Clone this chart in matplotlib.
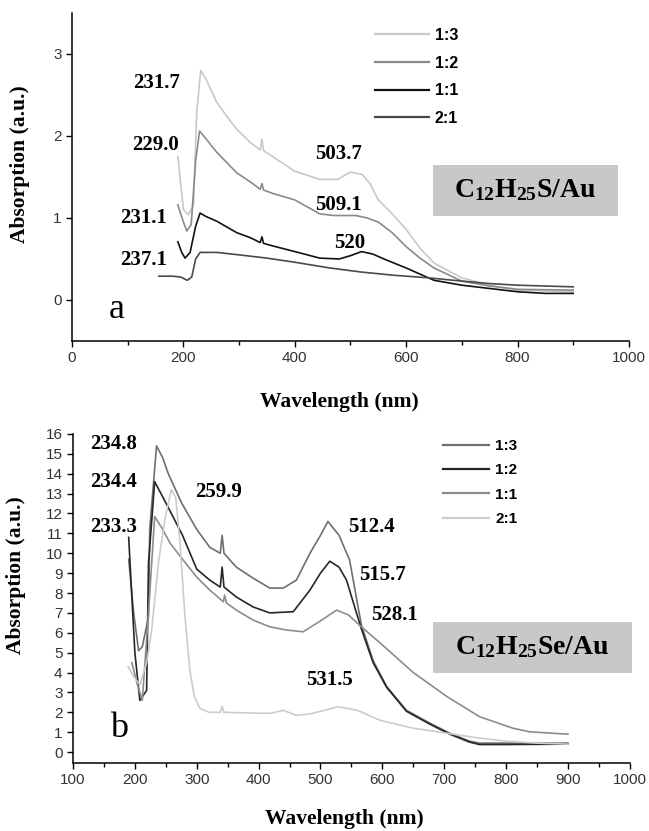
import matplotlib
matplotlib.use("Agg")
import matplotlib.pyplot as plt
from matplotlib.patches import Rectangle
from matplotlib.ticker import MultipleLocator

plt.rcParams['font.family'] = ['Liberation Sans', 'DejaVu Sans']
plt.rcParams['mathtext.fontset'] = 'custom'
plt.rcParams['mathtext.rm'] = 'Liberation Serif'
plt.rcParams['mathtext.bf'] = 'Liberation Serif:bold'

# ---- panel a : C12H25S/Au ----
labels = ['1:3', '1:2', '1:1', '2:1']

wl_a_13 = [190, 200, 209, 218, 224, 231, 240, 260, 280, 296, 320, 338, 341, 344, 360, 400, 445, 477, 500, 521, 535, 550, 575, 600, 625, 650, 700, 750, 800, 850, 900]
abs_a_13 = [1.75, 1.10, 1.04, 1.15, 2.30, 2.80, 2.70, 2.41, 2.22, 2.08, 1.92, 1.83, 1.96, 1.82, 1.75, 1.57, 1.47, 1.47, 1.56, 1.53, 1.42, 1.22, 1.05, 0.86, 0.63, 0.45, 0.27, 0.18, 0.12, 0.11, 0.10]

wl_a_12 = [190, 200, 206, 214, 222, 229, 240, 260, 296, 320, 338, 341, 344, 360, 400, 445, 470, 509, 530, 550, 575, 600, 625, 650, 700, 750, 800, 900]
abs_a_12 = [1.16, 0.95, 0.84, 0.92, 1.70, 2.06, 1.97, 1.80, 1.55, 1.44, 1.35, 1.42, 1.34, 1.30, 1.22, 1.05, 1.03, 1.03, 1.00, 0.95, 0.82, 0.65, 0.51, 0.39, 0.23, 0.17, 0.13, 0.12]

wl_a_11 = [190, 197, 203, 212, 222, 230, 240, 260, 296, 320, 338, 341, 344, 360, 400, 445, 480, 500, 520, 540, 560, 600, 650, 700, 750, 800, 850, 900]
abs_a_11 = [0.71, 0.58, 0.51, 0.58, 0.90, 1.06, 1.02, 0.96, 0.82, 0.76, 0.70, 0.77, 0.69, 0.66, 0.59, 0.51, 0.50, 0.54, 0.59, 0.56, 0.50, 0.39, 0.24, 0.18, 0.14, 0.10, 0.08, 0.08]

wl_a_21 = [156, 180, 195, 207, 215, 222, 230, 260, 300, 350, 400, 463, 520, 580, 640, 700, 750, 800, 900]
abs_a_21 = [0.29, 0.29, 0.28, 0.24, 0.28, 0.50, 0.58, 0.58, 0.55, 0.51, 0.46, 0.39, 0.34, 0.30, 0.27, 0.23, 0.20, 0.18, 0.16]

peaks_a = ['231.7', '229.0', '231.1', '237.1', '503.7', '509.1', '520']
peaks_a_x = [151, 150, 129, 129, 478, 478, 499]
peaks_a_y = [2.65, 1.89, 1.00, 0.49, 1.78, 1.16, 0.70]

# ---- panel b : C12H25Se/Au ----
wl_b_13 = [190, 198, 206, 212, 222, 224, 235, 245, 254, 276, 300, 321, 338, 341, 344, 364, 391, 418, 440, 461, 483, 500, 512, 530, 547, 566, 585, 607, 639, 677, 709, 741, 757, 800, 900]
abs_b_13 = [9.7, 7.0, 5.1, 5.3, 6.8, 11.2, 15.4, 14.8, 14.0, 12.5, 11.2, 10.3, 10.0, 10.9, 10.0, 9.3, 8.75, 8.25, 8.25, 8.65, 10.0, 10.9, 11.6, 10.9, 9.66, 6.4, 4.6, 3.3, 2.1, 1.45, 0.95, 0.55, 0.45, 0.45, 0.45]

wl_b_12 = [190, 192, 200, 208, 219, 222, 232, 254, 277, 300, 321, 338, 341, 344, 364, 391, 418, 456, 483, 500, 515, 530, 542, 566, 585, 607, 639, 677, 709, 741, 757, 800, 900]
abs_b_12 = [10.8, 9.6, 5.0, 2.6, 3.1, 9.5, 13.6, 12.3, 10.9, 9.2, 8.65, 8.3, 9.3, 8.3, 7.8, 7.3, 7.0, 7.06, 8.15, 9.0, 9.6, 9.3, 8.65, 6.2, 4.5, 3.25, 2.05, 1.4, 0.9, 0.5, 0.38, 0.38, 0.40]

wl_b_11 = [195, 204, 212, 222, 232, 245, 257, 278, 300, 321, 343, 345, 348, 364, 391, 418, 445, 472, 500, 526, 545, 566, 596, 650, 704, 757, 811, 838, 900]
abs_b_11 = [4.5, 3.4, 2.6, 7.0, 11.85, 11.2, 10.5, 9.66, 8.8, 8.15, 7.56, 7.9, 7.5, 7.14, 6.64, 6.3, 6.14, 6.05, 6.6, 7.14, 6.9, 6.3, 5.5, 4.0, 2.8, 1.78, 1.2, 1.02, 0.9]

wl_b_21 = [189, 198, 208, 219, 227, 238, 249, 259, 266, 273, 281, 289, 296, 305, 320, 338, 341, 344, 391, 420, 440, 461, 483, 500, 528, 560, 596, 650, 704, 757, 800, 850, 900]
abs_b_21 = [4.3, 3.8, 3.4, 4.5, 6.1, 9.5, 11.8, 13.2, 12.8, 10.5, 6.8, 4.1, 2.8, 2.2, 2.0, 2.0, 2.3, 2.0, 1.96, 1.95, 2.1, 1.85, 1.92, 2.05, 2.28, 2.1, 1.6, 1.2, 0.95, 0.7, 0.55, 0.45, 0.40]

peaks_b = ['234.8', '234.4', '233.3', '259.9', '512.4', '515.7', '528.1', '531.5']
peaks_b_x = [165, 165, 165, 336, 583, 601, 619, 515]
peaks_b_y = [15.5, 13.6, 11.3, 13.1, 11.3, 8.9, 6.9, 3.65]

colors_a = ['#c8c8c8', '#8a8a8a', '#111111', '#4a4a4a']
colors_b = ['#6e6e6e', '#262626', '#8c8c8c', '#cccccc']

serif = 'Liberation Serif'

fig = plt.figure(figsize=(6.49, 8.31), dpi=100)
ax1 = fig.add_axes([0.111, 0.5897, 0.858, 0.3947])
ax2 = fig.add_axes([0.1125, 0.0818, 0.858, 0.396])

series_a = [(wl_a_13, abs_a_13), (wl_a_12, abs_a_12), (wl_a_11, abs_a_11), (wl_a_21, abs_a_21)]
for (x, y), c, lab in zip(series_a, colors_a, labels):
    ax1.plot(x, y, color=c, lw=1.2, label=lab)

series_b = [(wl_b_13, abs_b_13), (wl_b_12, abs_b_12), (wl_b_11, abs_b_11), (wl_b_21, abs_b_21)]
for (x, y), c, lab in zip(series_b, colors_b, labels):
    ax2.plot(x, y, color=c, lw=1.2, label=lab)

for t, x, y in zip(peaks_a, peaks_a_x, peaks_a_y):
    ax1.text(x, y, t, ha='center', va='center', fontsize=15, fontweight='bold', family=serif)
for t, x, y in zip(peaks_b, peaks_b_x, peaks_b_y):
    ax2.text(x, y, t, ha='center', va='center', fontsize=15, fontweight='bold', family=serif)

ax1.set_xlim(0, 1000)
ax1.set_ylim(-0.5, 3.5)
ax1.xaxis.set_major_locator(MultipleLocator(200))
ax1.xaxis.set_minor_locator(MultipleLocator(100))
ax1.yaxis.set_major_locator(MultipleLocator(1))

ax2.set_xlim(100, 1000)
ax2.set_ylim(-0.55, 16)
ax2.xaxis.set_major_locator(MultipleLocator(100))
ax2.xaxis.set_minor_locator(MultipleLocator(50))
ax2.yaxis.set_major_locator(MultipleLocator(1))

for ax in (ax1, ax2):
    ax.spines['top'].set_visible(False)
    ax.spines['right'].set_visible(False)
    for s in ('left', 'bottom'):
        ax.spines[s].set_linewidth(1.1)
    ax.tick_params(which='major', direction='out', length=4, width=1.0, labelsize=11, labelcolor='#333333')
    ax.tick_params(which='minor', direction='out', length=3, width=1.0)
    ax.set_xlabel('Wavelength (nm)', fontsize=15.5, fontweight='bold', family=serif)
    ax.set_ylabel('Absorption (a.u.)', fontsize=15.5, fontweight='bold', family=serif)

ax1.xaxis.set_label_coords(0.48, -0.155)
ax1.yaxis.set_label_coords(-0.075, 0.54)
ax2.xaxis.set_label_coords(0.488, -0.14)
ax2.yaxis.set_label_coords(-0.084, 0.571)

leg1 = ax1.legend(loc='upper left', bbox_to_anchor=(0.544, 0.955), frameon=False, borderpad=0,
                  borderaxespad=0, handlelength=3.4, handletextpad=0.35, labelspacing=0.8,
                  prop={'weight': 'bold', 'size': 11.5})
leg2 = ax2.legend(loc='upper left', bbox_to_anchor=(0.664, 0.985), frameon=False, borderpad=0,
                  borderaxespad=0, handlelength=3.0, handletextpad=0.45, labelspacing=0.68,
                  prop={'weight': 'bold', 'size': 11})
for lg in (leg1, leg2):
    for h in lg.get_lines():
        h.set_linewidth(1.6)

ax1.add_patch(Rectangle((0.648, 0.381), 0.332, 0.156, transform=ax1.transAxes,
                        facecolor='#c8c8c8', edgecolor='none', clip_on=False))
ax1.text(0.813, 0.46, r'$\mathbf{C_{12}H_{25}S/Au}$', transform=ax1.transAxes,
         ha='center', va='center', fontsize=20)
ax2.add_patch(Rectangle((0.646, 0.274), 0.358, 0.155, transform=ax2.transAxes,
                        facecolor='#c8c8c8', edgecolor='none', clip_on=False))
ax2.text(0.824, 0.353, r'$\mathbf{C_{12}H_{25}Se/Au}$', transform=ax2.transAxes,
         ha='center', va='center', fontsize=20)

ax1.text(0.081, 0.07, 'a', transform=ax1.transAxes, fontsize=26, family=serif, va='baseline', ha='center')
ax2.text(0.083, 0.079, 'b', transform=ax2.transAxes, fontsize=26, family=serif, va='baseline', ha='center')

fig.savefig('out.png', dpi=100)
